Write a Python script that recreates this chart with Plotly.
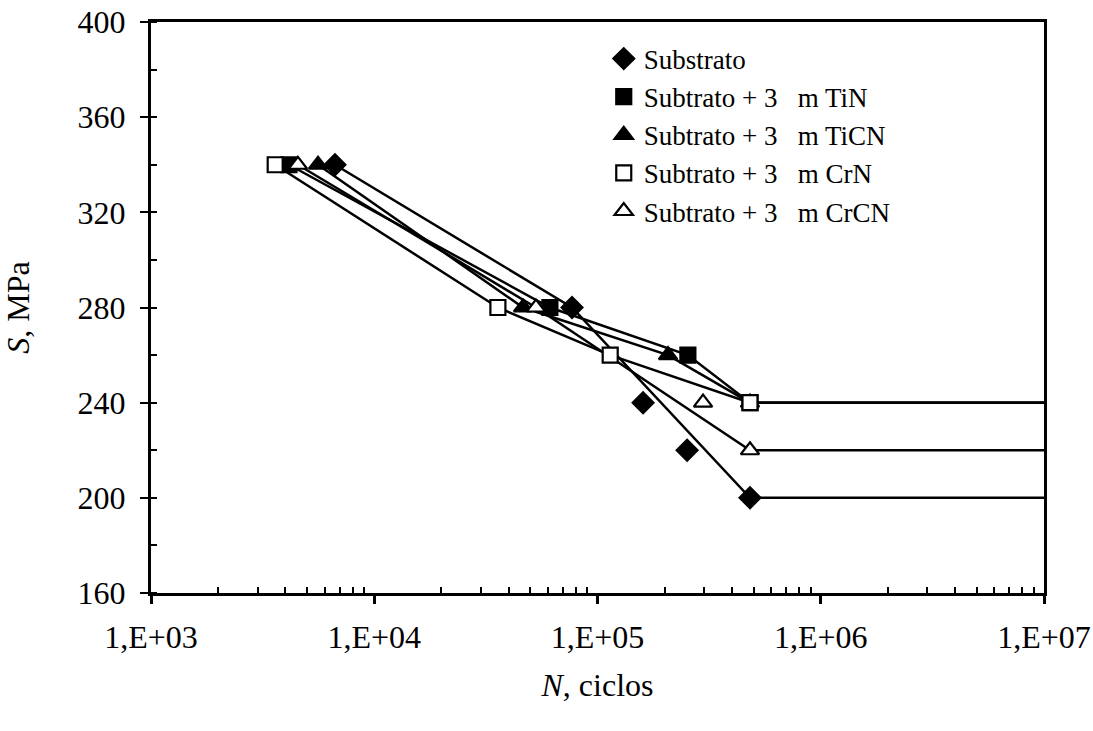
import plotly.graph_objects as go

# ---- data ----
series_names = ["Substrato", "Subtrato + 3   m TiN", "Subtrato + 3   m TiCN",
                "Subtrato + 3   m CrN", "Subtrato + 3   m CrCN"]

sub_N = [6.67e3, 7.69e4, 1.60e5, 2.52e5, 4.82e5]
sub_S = [340, 280, 240, 220, 200]
tin_N = [4.15e3, 6.12e4, 2.54e5, 4.82e5]
tin_S = [340, 280, 260, 240]
ticn_N = [5.6e3, 4.64e4, 2.07e5, 4.82e5]
ticn_S = [340, 280, 260, 240]
crn_N = [3.6e3, 3.58e4, 1.14e5, 4.82e5]
crn_S = [340, 280, 260, 240]
crcn_N = [4.55e3, 5.3e4, 2.97e5, 4.82e5]
crcn_S = [340, 280, 240, 220]

# fitted curves (vertices) incl. run-out to 1e7
sub_line_N = [6.67e3, 7.69e4, 4.82e5, 1e7]
sub_line_S = [340, 280, 200, 200]
tin_line_N = [4.15e3, 6.12e4, 2.54e5, 4.82e5, 1e7]
tin_line_S = [340, 280, 260, 240, 240]
ticn_line_N = [5.6e3, 4.64e4, 2.07e5, 4.82e5, 1e7]
ticn_line_S = [340, 280, 260, 240, 240]
crn_line_N = [3.6e3, 3.58e4, 1.14e5, 4.82e5, 1e7]
crn_line_S = [340, 280, 260, 240, 240]
crcn_line_N = [4.55e3, 5.3e4, 4.82e5, 1e7]
crcn_line_S = [340, 280, 220, 220]

x_tickvals = [1e3, 1e4, 1e5, 1e6, 1e7]
x_ticktext = ["1,E+03", "1,E+04", "1,E+05", "1,E+06", "1,E+07"]
y_tickvals = [160, 200, 240, 280, 320, 360, 400]

FONT = "Liberation Serif, Times New Roman, serif"

fig = go.Figure()

lines = [(sub_line_N, sub_line_S), (tin_line_N, tin_line_S), (ticn_line_N, ticn_line_S),
         (crn_line_N, crn_line_S), (crcn_line_N, crcn_line_S)]
for xs, ys in lines:
    fig.add_trace(go.Scatter(x=xs, y=ys, mode="lines", showlegend=False,
                             line=dict(color="black", width=2.5), hoverinfo="skip"))

markers = [
    (sub_N, sub_S, "diamond", 16, "black"),
    (tin_N, tin_S, "square", 15, "black"),
    (ticn_N, ticn_S, "triangle-up", 16, "black"),
    (crn_N, crn_S, "square", 15, "white"),
    (crcn_N, crcn_S, "triangle-up", 16, "white"),
]
for name, (xs, ys, sym, sz, fill) in zip(series_names, markers):
    fig.add_trace(go.Scatter(x=xs, y=ys, mode="markers", name=name,
                             marker=dict(symbol=sym, size=sz, color=fill,
                                         line=dict(color="black", width=2.2))))

fig.update_layout(
    width=1093, height=731,
    margin=dict(l=151, r=49, t=22, b=138),
    paper_bgcolor="white", plot_bgcolor="white",
    font=dict(family=FONT, size=32, color="black"),
    showlegend=True,
    legend=dict(x=0.507, y=0.978, xanchor="left", yanchor="top",
                bgcolor="rgba(0,0,0,0)", font=dict(size=27),
                itemsizing="trace", tracegroupgap=0),
)

fig.update_xaxes(
    type="log", range=[3, 7], automargin=False,
    tickvals=x_tickvals, ticktext=x_ticktext,
    tickfont=dict(size=32),
    showline=True, linecolor="black", linewidth=3, mirror=True,
    ticks="outside", ticklen=8, tickwidth=2.5, tickcolor="black",
    ticklabelstandoff=6,
    minor=dict(ticks="inside", ticklen=6, tickwidth=2, tickcolor="black",
               tickvals=[m * 10 ** e for e in range(3, 7) for m in range(2, 10)],
               showgrid=False),
    showgrid=False, zeroline=False,
    title=dict(text="<i>N</i>, ciclos", font=dict(size=32), standoff=20),
)
fig.update_yaxes(
    range=[160, 400], automargin=False, tickvals=y_tickvals,
    tickfont=dict(size=32),
    showline=True, linecolor="black", linewidth=3, mirror=True,
    ticks="outside", ticklen=8, tickwidth=1.5, tickcolor="black",
    ticklabelstandoff=8,
    minor=dict(ticks="inside", ticklen=6, tickwidth=1.5, tickcolor="black", dtick=20,
               showgrid=False),
    showgrid=False, zeroline=False,
    title=dict(text="<i>S</i>, MPa", font=dict(size=32), standoff=40),
)

fig.write_html("out.html")
